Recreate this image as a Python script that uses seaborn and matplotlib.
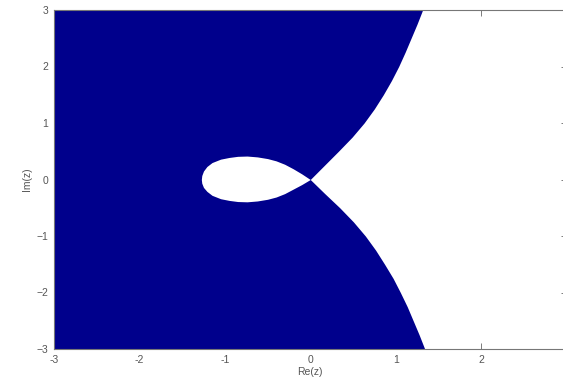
import numpy as np
import matplotlib
matplotlib.use("Agg")
import matplotlib.pyplot as plt
import seaborn as sns

# Right-hand boundary of the shaded region: Im(z) -> Re(z)
bound_im = [-3.0, -2.75, -2.5, -2.25, -2.0, -1.75, -1.5, -1.25, -1.0, -0.75, -0.5, -0.25, 0.0,
            0.25, 0.5, 0.75, 1.0, 1.25, 1.5, 1.75, 2.0, 2.25, 2.5, 2.75, 3.0]
bound_re = [1.34, 1.275, 1.205, 1.135, 1.055, 0.97, 0.87, 0.765, 0.645, 0.505, 0.345, 0.17, 0.0,
            0.165, 0.33, 0.49, 0.63, 0.75, 0.855, 0.95, 1.035, 1.11, 1.18, 1.25, 1.315]

# Inner loop (unshaded): upper edge and lower edge over Re(z)
loop_x = [0.0, -0.1, -0.2, -0.3, -0.4, -0.5, -0.62, -0.74, -0.85, -0.95, -1.05,
          -1.15, -1.21, -1.25, -1.27, -1.275]
loop_up = [0.0, 0.10, 0.19, 0.27, 0.33, 0.37, 0.40, 0.415, 0.41, 0.39, 0.36,
           0.30, 0.23, 0.15, 0.07, 0.0]
loop_lo = [0.0, -0.09, -0.17, -0.25, -0.31, -0.35, -0.38, -0.395, -0.39, -0.37, -0.34,
           -0.28, -0.21, -0.14, -0.065, 0.0]

x_ticks = [-3, -2, -1, 0, 1, 2, 3]
x_labels = ["-3", "-2", "-1", "0", "1", "2", ""]
y_ticks = [-3, -2, -1, 0, 1, 2, 3]

sns.set_theme(style="white")
plt.rcParams["font.family"] = ["Liberation Sans", "DejaVu Sans"]

fig = plt.figure(figsize=(5.63, 3.88), dpi=100)
ax = fig.add_axes([54 / 563, 39 / 388, 512.5 / 563, 339 / 388])

navy = "#00008c"
ax.fill_betweenx(bound_im, -3.0, bound_re, color=navy, linewidth=0, zorder=1)
ax.fill_between(loop_x, loop_lo, loop_up, color="white", linewidth=0, zorder=2)

ax.set_xlim(-3, 3)
ax.set_ylim(-3, 3)
ax.set_xticks(x_ticks)
ax.set_xticklabels(x_labels)
ax.set_yticks(y_ticks)
ax.set_xlabel("Re(z)", fontsize=7.5, color="#555555", labelpad=2)
ax.set_ylabel("Im(z)", fontsize=7.5, color="#555555", labelpad=3)

ax.tick_params(direction="in", length=4, width=0.6, colors="#666666",
               labelsize=7.5, labelcolor="#555555", top=True, right=True,
               bottom=True, left=True, pad=4)
for s in ax.spines.values():
    s.set_color("#777777")
    s.set_linewidth(0.8)
    s.set_zorder(5)

fig.savefig("out.png", dpi=100)
